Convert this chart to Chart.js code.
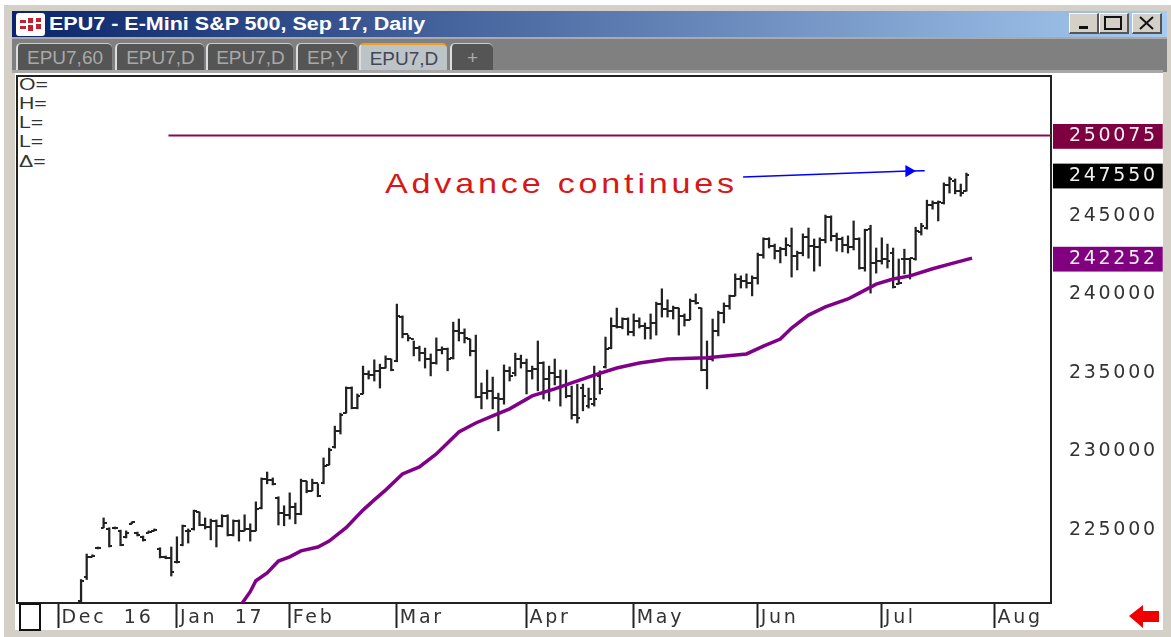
<!DOCTYPE html>
<html>
<head>
<meta charset="utf-8">
<title>EPU7 - E-Mini S&amp;P 500, Sep 17, Daily</title>
<script src="https://cdn.jsdelivr.net/npm/chart.js@4"></script>
<style>
    html, body { margin: 0; padding: 0; width: 1171px; height: 637px; overflow: hidden; background: #fff; }
    body { position: relative; font-family: "Liberation Sans", Arial, sans-serif; }
    .abs { position: absolute; box-sizing: border-box; }
    #outer { left: 4px; top: 5px; width: 1167px; height: 632px; background: #d4d0c8; }
    #titlebar { left: 12px; top: 11px; width: 1155px; height: 26px; background: linear-gradient(90deg, #0a246a, #a6caf0); }
    #title { left: 49px; top: 13px; color: #fff; font-weight: bold; font-size: 18px; line-height: 22px; white-space: nowrap; transform-origin: left center; transform: scaleX(1.195); }
    #icon { left: 16px; top: 13px; width: 29px; height: 23px; background: #fff; border-radius: 3px; }
    .btn { top: 13px; width: 30px; height: 21px; background: #d4d0c8; border-top: 1px solid #fff; border-left: 1px solid #fff; border-right: 2px solid #555; border-bottom: 2px solid #555; }
    #strip { left: 12px; top: 37px; width: 1155px; height: 35px; background: #808080; border-top: 2px solid #aaa; }
    #stripline { left: 12px; top: 70px; width: 1151px; height: 3px; background: #a8a8a8; }
    #panel { left: 15px; top: 72px; width: 1148px; height: 558px; background: #fff; }
    .tab { top: 43px; height: 27px; background: #555; color: #a9a9a9; font-size: 19px; line-height: 27px; text-align: center; border-top: 1px solid #ccc; border-left: 2px solid #ddd; border-radius: 5px 5px 0 0; white-space: nowrap; }
    .tab.on { background: #bcc4c8; color: #445; border-top: 2px solid #f0a020; }
    #frame { left: 16px; top: 75px; width: 1036px; height: 529px; border: 2px solid #222; background: #fff; }
    .ohlc { left: 19px; color: #333; font-size: 17px; line-height: 18px; transform-origin: left center; transform: scaleX(1.25); }
    #note { left: 385px; top: 166px; color: #d81818; font-size: 28px; line-height: 36px; letter-spacing: 3.1px; white-space: pre; transform-origin: left center; transform: scaleX(1.22); }
    #cornerbox { left: 19px; top: 603px; width: 22px; height: 28px; border: 2px solid #111; background: #fff; }
    canvas { position: absolute; left: 0; top: 0; }
</style>
</head>
<body>
<div class="abs" id="outer"></div>
<div class="abs" id="titlebar"></div>
<div class="abs" id="icon">
    <svg width="29" height="23"><g fill="#c02030"><rect x="4" y="7" width="6" height="3"/><rect x="4" y="13" width="6" height="3"/><rect x="12" y="5" width="5" height="5"/><rect x="12" y="12" width="5" height="6"/><rect x="20" y="5" width="5" height="4"/><rect x="20" y="11" width="5" height="5"/></g></svg>
</div>
<div class="abs" id="title">EPU7 - E-Mini S&amp;P 500, Sep 17, Daily</div>
<div class="abs btn" style="left:1069px"><svg width="27" height="18"><rect x="9" y="12" width="9" height="3" fill="#111"/></svg></div>
<div class="abs btn" style="left:1099px"><svg width="27" height="18"><rect x="5" y="3" width="16" height="12" fill="none" stroke="#111" stroke-width="2"/></svg></div>
<div class="abs btn" style="left:1132px"><svg width="27" height="18"><path d="M7 3 L20 15 M20 3 L7 15" stroke="#111" stroke-width="2"/></svg></div>
<div class="abs" id="strip"></div>
<div class="abs" id="panel"></div>
<div class="abs" id="stripline"></div>
<div class="abs tab" style="left:16px;width:96px">EPU7,60</div>
<div class="abs tab" style="left:115px;width:89px">EPU7,D</div>
<div class="abs tab" style="left:206px;width:87px">EPU7,D</div>
<div class="abs tab" style="left:296px;width:61px">EP,Y</div>
<div class="abs tab on" style="left:359px;width:88px">EPU7,D</div>
<div class="abs tab" style="left:450px;width:43px">+</div>
<div class="abs" id="frame"></div>
<div class="abs ohlc" style="top:76px">O=</div>
<div class="abs ohlc" style="top:95px">H=</div>
<div class="abs ohlc" style="top:114px">L=</div>
<div class="abs ohlc" style="top:133px">L=</div>
<div class="abs ohlc" style="top:153px">Δ=</div>
<div class="abs" id="note">Advance continues</div>
<div class="abs" id="cornerbox"></div>
<svg class="abs" style="left:1128px;top:604px" width="33" height="25"><polygon points="1,12 15,1 15,7 31,7 31,18 15,18 15,24" fill="#f00000"/></svg>
<canvas id="chart" width="1171" height="637"></canvas>
<script>
// trading days counted from 1 Dec 2016, first drawn bar is day 4
const firstBarDay = 4;

const highs = [
    221775, 223400, 223350, 223850, 225700, 225075, 225125, 224925, 224875, 225450,
    224800, 224550, 224875, 225000, 223800, 223275, 223850, 224500, 225250, 225000,
    226200, 226075, 225700, 225625, 225575, 225900, 225900, 225575, 225575, 225900,
    225325, 226725, 228250, 228625, 228250, 227050, 226475, 227300, 226650, 228175,
    228050, 228175, 227875, 229525, 230150, 231550, 232375, 234050, 234050, 233600,
    235375, 235075, 235775, 235500, 236025, 235825, 239325, 238575, 237350, 236975,
    236650, 236525, 236150, 237175, 236600, 236525, 238175, 238375, 237750, 237100,
    237350, 234300, 235125, 234675, 233650, 235450, 235325, 236200, 236075, 235825,
    235375, 236975, 235650, 235375, 235825, 235125, 235125, 234100, 234225, 234225,
    233975, 235375, 235075, 237225, 238450, 239075, 238450, 238450, 238700, 238450,
    238125, 238700, 239450, 240300, 239600, 239200, 239075, 238700, 239650, 239975,
    239075, 236975, 238375, 238875, 239400, 239900, 241250, 241125, 241250, 241125,
    242575, 243550, 243550, 243150, 242950, 243550, 244175, 242700, 243800, 244175,
    243475, 243550, 245000, 244950, 243850, 243600, 243675, 244625, 243550, 244100,
    244350, 242900, 243550, 243150, 242900, 242200, 242825, 242250, 244225, 244475,
    245950, 245900, 245900, 247050, 247425, 247300, 246975, 247675
];
const lows = [
    219775, 221775, 223225, 223725, 225075, 223850, 225000, 223925, 224425, 225325,
    224550, 224225, 224750, 224875, 223150, 223100, 222000, 222825, 223925, 224100,
    224925, 225200, 225000, 224300, 223850, 225125, 224550, 224550, 224225, 224875,
    224225, 224875, 226275, 227875, 227800, 225250, 225200, 225625, 225325, 225900,
    227300, 227425, 227050, 227875, 229075, 230150, 231050, 232375, 232650, 232650,
    233600, 234550, 234425, 233975, 235250, 235075, 235650, 237175, 236975, 236025,
    235700, 235250, 234750, 235500, 236150, 235075, 235825, 236975, 236850, 236025,
    233350, 232650, 233275, 232650, 231250, 232950, 234425, 234750, 235250, 233600,
    234550, 233800, 233275, 233150, 234175, 232825, 233350, 232000, 231750, 232525,
    232700, 232825, 233600, 235250, 236475, 237800, 237750, 237350, 237300, 237800,
    237100, 237100, 237350, 238500, 238500, 238375, 237350, 237925, 238325, 239325,
    235075, 233925, 235700, 237300, 238125, 239000, 239850, 240350, 240350, 239850,
    240600, 242250, 242900, 242200, 241950, 242400, 241050, 241500, 242400, 242250,
    241425, 241750, 243225, 243350, 242700, 242650, 242575, 242775, 241550, 241425,
    240025, 241300, 241875, 241625, 240350, 240600, 241250, 240925, 242125, 243725,
    244100, 245375, 244625, 245700, 246400, 246350, 246200, 246525
];
const opens = [
    220425, 221950, 223225, 223800, 225075, 225000, 225075, 224875, 224500, 225325,
    224750, 224500, 224750, 224875, 223725, 223225, 223150, 222900, 224000, 224875,
    225000, 226075, 225250, 225125, 225500, 225200, 225825, 224625, 225500, 224875,
    225000, 224875, 226350, 228175, 228125, 226975, 226025, 225900, 226400, 225950,
    228050, 227425, 227925, 227925, 229075, 230225, 231250, 232375, 233975, 232700,
    233600, 234875, 234800, 235075, 235250, 235825, 235700, 238500, 237425, 237100,
    236525, 236200, 235825, 235575, 236400, 236475, 235900, 237625, 237475, 237100,
    236350, 233400, 233650, 233800, 233350, 233275, 235075, 234925, 235825, 235575,
    235075, 235200, 235575, 234550, 234925, 234675, 234100, 233475, 232250, 233975,
    232825, 232950, 234750, 235325, 236525, 237925, 237875, 238375, 237550, 238250,
    237925, 237800, 238125, 239325, 239000, 238875, 239075, 238575, 238325, 239525,
    239075, 235125, 235825, 237625, 238750, 239200, 239850, 240925, 240800, 240675,
    241000, 242450, 243475, 243025, 242700, 242825, 243025, 242400, 242575, 243600,
    243025, 242975, 243425, 244875, 243675, 243475, 243100, 242975, 243475, 241625,
    244100, 241950, 242075, 242200, 242575, 240600, 242200, 242200, 242200, 243925,
    244175, 245625, 245775, 245775, 246925, 247175, 246525, 246525
];
const closes = [
    221700, 223225, 223275, 223800, 225375, 223925, 225075, 224000, 224750, 225450,
    224625, 224300, 224800, 224925, 223225, 223150, 222250, 222900, 225200, 224875,
    226150, 225250, 225125, 225500, 225200, 225825, 224625, 225500, 224875, 225000,
    224875, 226275, 228175, 228125, 227875, 226025, 225900, 226400, 225950, 228050,
    227425, 227925, 227100, 229000, 230025, 231250, 232250, 233975, 232700, 233475,
    234875, 234800, 235075, 235250, 235825, 235125, 238575, 237425, 237175, 236525,
    236200, 235825, 235575, 236400, 236475, 235825, 237625, 237475, 237175, 236350,
    233400, 233650, 233800, 233350, 233275, 235075, 234750, 235825, 235575, 235075,
    235200, 235575, 234550, 234925, 234675, 234100, 233475, 232250, 232075, 233475,
    233275, 233275, 233925, 236475, 237925, 237875, 238375, 237550, 238250, 237925,
    237800, 238125, 239325, 239000, 238875, 239075, 238575, 238325, 239525, 239400,
    235125, 235825, 237625, 238750, 239200, 239850, 240925, 240800, 240675, 241000,
    242450, 243475, 243025, 242700, 242825, 243100, 242400, 242575, 243600, 243025,
    242975, 243425, 244875, 243675, 243475, 243100, 242975, 243475, 241625, 244050,
    241950, 242075, 242200, 242075, 240425, 240675, 242200, 242250, 243975, 244300,
    245625, 245775, 245825, 246925, 247300, 246525, 246400, 247550
];

// moving average, read at its bends
const maDays = [
    32, 34, 35, 37, 39, 41, 43, 46, 48, 51, 54, 56, 58, 61, 64, 67, 71, 74, 77, 80, 84,
    88, 91, 95, 99, 103, 108, 115, 122, 125, 128, 130, 133, 136, 140, 142, 145, 148,
    151, 155, 158, 162
];
const maValues = [
    219975, 221000, 221700, 222200, 222950, 223225, 223600, 223850, 224225, 225075, 226200,
    226850, 227475, 228500, 228950, 229775, 231175, 231750, 232200, 232650, 233475,
    233925, 234300, 234800, 235250, 235575, 235825, 235900, 236150, 236650, 237100,
    237800, 238625, 239150, 239650, 240025, 240600, 240925, 241125, 241575, 241875, 242252
];

const priceTicks = [225000, 230000, 235000, 240000, 245000];
const resistanceLevel = 250075;
const lastPrice = 247550;
const maLast = 242252;
const resistanceDays = [19.5, 176];
const arrowDays = [121.4, 150.8, 153.6];
const arrowValues = [247425, 247800, 247825];

const monthDays = [0, 21, 41, 60, 83, 102, 124, 146, 166];
const monthLabels = ["Dec  16", "Jan  17", "Feb", "Mar", "Apr", "May", "Jun", "Jul", "Aug"];

// flag colours for the price labels at the right edge
const flagColors = { [resistanceLevel]: "#7f0040", [lastPrice]: "#000000", [maLast]: "#800080" };

const barDays = highs.map((h, i) => firstBarDay + i);

// small side tick used as point image for open (left) and close (right)
function sideTick(isRight) {
    const c = document.createElement("canvas");
    c.width = 6;
    c.height = 2;
    const g = c.getContext("2d");
    g.fillStyle = "#222";
    g.fillRect(isRight ? 3 : 0, 0, 3, 2);
    return c;
}

const wideText = {
    id: "wideText",
    beforeLayout(chart) { chart.ctx.letterSpacing = "2.7px"; },
    beforeDraw(chart) { chart.ctx.letterSpacing = "2.7px"; }
};

new Chart(document.getElementById("chart"), {
    type: "bar",
    plugins: [wideText],
    data: {
        datasets: [
            {
                type: "line",
                data: resistanceDays.map(d => ({ x: d, y: resistanceLevel })),
                borderColor: "#8a0a4a",
                borderWidth: 2,
                pointRadius: 0
            },
            {
                type: "line",
                data: maDays.map((d, i) => ({ x: d, y: maValues[i] })),
                borderColor: "#800088",
                borderWidth: 3.5,
                pointRadius: 0
            },
            {
                type: "bar",
                data: barDays.map((d, i) => ({ x: d, y: [lows[i], highs[i]] })),
                backgroundColor: "#222",
                barThickness: 1.6,
                grouped: false
            },
            {
                type: "line",
                showLine: false,
                data: barDays.map((d, i) => ({ x: d, y: opens[i] })),
                pointStyle: sideTick(false),
                pointRadius: 3
            },
            {
                type: "line",
                showLine: false,
                data: barDays.map((d, i) => ({ x: d, y: closes[i] })),
                pointStyle: sideTick(true),
                pointRadius: 3
            },
            {
                type: "line",
                data: arrowDays.map((d, i) => ({ x: d, y: arrowValues[i] })),
                borderColor: "#0000ff",
                backgroundColor: "#0000ff",
                borderWidth: 1.5,
                pointStyle: "triangle",
                pointRotation: 90,
                pointRadius: [0, 7, 0],
                pointBorderWidth: 0
            }
        ]
    },
    options: {
        responsive: false,
        animation: false,
        devicePixelRatio: 1,
        layout: { padding: { left: 17, top: 76, right: 0, bottom: 0 } },
        plugins: { legend: { display: false }, tooltip: { enabled: false } },
        scales: {
            x: {
                type: "linear",
                offset: false,
                min: -7.36,
                max: 176,
                afterFit(scale) { scale.height = 34; },
                afterBuildTicks(scale) { scale.ticks = monthDays.map(v => ({ value: v })); },
                border: { display: false },
                grid: { offset: false, drawOnChartArea: false, drawTicks: true, tickLength: 25, tickWidth: 2, tickColor: "#222" },
                ticks: {
                    autoSkip: false,
                    maxRotation: 0,
                    align: "start",
                    labelOffset: 3,
                    padding: -21,
                    color: "#333",
                    font: { family: "DejaVu Sans", size: 19 },
                    callback: v => monthLabels[monthDays.indexOf(v)]
                }
            },
            y: {
                type: "linear",
                position: "right",
                min: 220280,
                max: 253860,
                afterFit(scale) { scale.width = 120; },
                afterBuildTicks(scale) {
                    scale.ticks = priceTicks.concat([maLast, lastPrice, resistanceLevel]).map(v => ({ value: v }));
                },
                border: { display: false },
                grid: { drawOnChartArea: false, drawTicks: false },
                ticks: {
                    autoSkip: false,
                    padding: 18,
                    labelOffset: 1,
                    font: { family: "DejaVu Sans", size: 19 },
                    color: ctx => flagColors[ctx.tick.value] ? "#f0f0f0" : "#333",
                    showLabelBackdrop: ctx => !!flagColors[ctx.tick.value],
                    backdropColor: ctx => flagColors[ctx.tick.value] || "transparent",
                    backdropPadding: { left: 16, right: 5, top: 1, bottom: 1 },
                    callback: v => String(v)
                }
            }
        }
    }
});
</script>
</body>
</html>
